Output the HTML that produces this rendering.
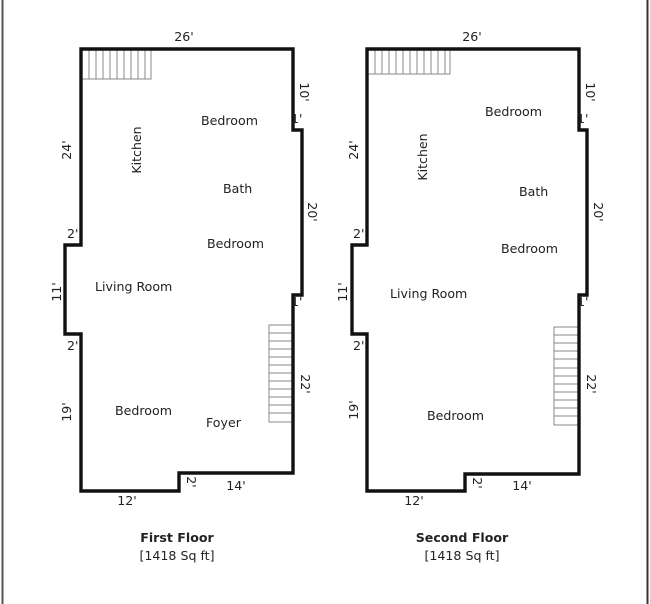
<!DOCTYPE html>
<html><head><style>html,body{margin:0;padding:0;background:#fff}svg{display:block}</style></head><body>
<svg width="650" height="604" viewBox="0 0 650 604" xmlns="http://www.w3.org/2000/svg" font-family="DejaVu Sans, Liberation Sans, sans-serif" font-size="12.6" fill="#222">
<line x1="2.5" y1="0" x2="2.5" y2="604" stroke="#555" stroke-width="2"/>
<line x1="647.5" y1="0" x2="647.5" y2="604" stroke="#333" stroke-width="2"/>
<!-- First floor -->
<g stroke="#888" stroke-width="1" fill="none">
<rect x="82" y="50" width="69" height="29"/>
<path d="M89 50V79M96 50V79M103 50V79M110 50V79M117 50V79M124 50V79M131 50V79M138 50V79M145 50V79"/>
<rect x="269" y="325" width="24" height="97"/>
<path d="M269 333H293M269 341H293M269 349H293M269 357H293M269 365H293M269 373H293M269 381H293M269 389H293M269 397H293M269 405H293M269 413H293"/>
</g>
<path d="M81 49H293V130H302V295H293V473H179V491H81V334H65V245H81Z" fill="none" stroke="#111" stroke-width="3.4"/>
<text x="184" y="41" text-anchor="middle">26'</text>
<text x="201" y="125">Bedroom</text>
<text x="223" y="193">Bath</text>
<text x="207" y="248">Bedroom</text>
<text x="95" y="291">Living Room</text>
<text x="115" y="415">Bedroom</text>
<text x="206" y="427">Foyer</text>
<text transform="translate(141,150) rotate(-90)" text-anchor="middle">Kitchen</text>
<text transform="translate(71,150) rotate(-90)" text-anchor="middle">24'</text>
<text transform="translate(61,292) rotate(-90)" text-anchor="middle">11'</text>
<text transform="translate(71,412) rotate(-90)" text-anchor="middle">19'</text>
<text x="67" y="238">2'</text>
<text x="67" y="350">2'</text>
<text transform="translate(300,92) rotate(90)" text-anchor="middle">10'</text>
<text transform="translate(308,212) rotate(90)" text-anchor="middle">20'</text>
<text transform="translate(301,384) rotate(90)" text-anchor="middle">22'</text>
<text x="291" y="123">1'</text>
<text x="291" y="306">1'</text>
<text transform="translate(187,482) rotate(90)" text-anchor="middle">2'</text>
<text x="127" y="505" text-anchor="middle">12'</text>
<text x="236" y="490" text-anchor="middle">14'</text>
<text x="177" y="542" text-anchor="middle" font-weight="bold">First Floor</text>
<text x="177" y="560" text-anchor="middle">[1418 Sq ft]</text>
<!-- Second floor -->
<g stroke="#888" stroke-width="1" fill="none">
<rect x="368" y="50" width="82" height="24"/>
<path d="M375 50V74M382 50V74M389 50V74M396 50V74M403 50V74M410 50V74M417 50V74M424 50V74M431 50V74M438 50V74M445 50V74"/>
<rect x="554" y="327" width="25" height="98"/>
<path d="M554 335H579M554 343H579M554 351H579M554 359H579M554 368H579M554 376H579M554 384H579M554 392H579M554 400H579M554 408H579M554 416H579"/>
</g>
<path d="M367 49H579V130H587V295H579V474H465V491H367V334H352V245H367Z" fill="none" stroke="#111" stroke-width="3.4"/>
<text x="472" y="41" text-anchor="middle">26'</text>
<text x="485" y="116">Bedroom</text>
<text x="519" y="196">Bath</text>
<text x="501" y="253">Bedroom</text>
<text x="390" y="298">Living Room</text>
<text x="427" y="420">Bedroom</text>
<text transform="translate(427,157) rotate(-90)" text-anchor="middle">Kitchen</text>
<text transform="translate(358,150) rotate(-90)" text-anchor="middle">24'</text>
<text transform="translate(347,292) rotate(-90)" text-anchor="middle">11'</text>
<text transform="translate(358,410) rotate(-90)" text-anchor="middle">19'</text>
<text x="353" y="238">2'</text>
<text x="353" y="350">2'</text>
<text transform="translate(586,92) rotate(90)" text-anchor="middle">10'</text>
<text transform="translate(594,212) rotate(90)" text-anchor="middle">20'</text>
<text transform="translate(587,384) rotate(90)" text-anchor="middle">22'</text>
<text x="577" y="123">1'</text>
<text x="577" y="306">1'</text>
<text transform="translate(473,483) rotate(90)" text-anchor="middle">2'</text>
<text x="414" y="505" text-anchor="middle">12'</text>
<text x="522" y="490" text-anchor="middle">14'</text>
<text x="462" y="542" text-anchor="middle" font-weight="bold">Second Floor</text>
<text x="462" y="560" text-anchor="middle">[1418 Sq ft]</text>
</svg>
</body></html>
